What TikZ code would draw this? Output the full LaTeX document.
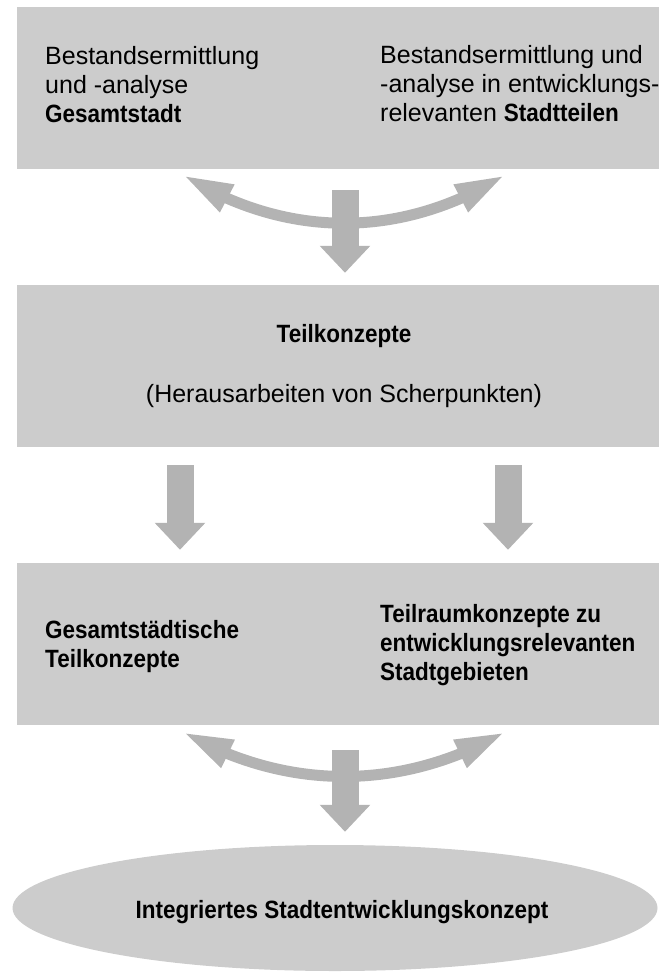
\documentclass[tikz,border=0pt]{standalone}
\usepackage{fontspec}
\setmainfont{Liberation Sans}[BoldFeatures={FakeStretch=0.9}]
\usepackage{tikz}
\usetikzlibrary{positioning, arrows.meta, calc, shapes.geometric, bending}
\definecolor{boxgray}{HTML}{CCCCCC}
\definecolor{arrowgray}{HTML}{B3B3B3}

\tikzset{
  stage/.style={fill=boxgray, minimum width=642pt, minimum height=162pt, inner sep=0pt},
  txt/.style={align=left, inner sep=0pt, font=\fontsize{25}{29}\selectfont},
  downarrow/.style={arrowgray, line width=27pt, -{Triangle[length=27pt,width=49pt]}},
  swing/.style={arrowgray, line width=11pt,
    {Triangle[length=50pt,width=28pt]}-{Triangle[length=50pt,width=28pt]}},
}

\begin{document}
\begin{tikzpicture}[x=1pt,y=1pt]
    \useasboundingbox (0,0) rectangle (659,-976);

    % boxes
    \node[stage] (box1) at (338,-88) {};
    \node[stage] (box2) at (338,-366) {};
    \node[stage] (box3) at (338,-644) {};
    \node[ellipse, fill=boxgray, minimum width=645pt, minimum height=126pt,
          inner sep=0pt] (konzept) at (335,-908) {};

    % texts
    \node[txt, anchor=north west] (gesamt) at (45,-46)
      {Bestandsermittlung\\und -analyse\\\textbf{Gesamtstadt}};
    \node[txt, anchor=north west] (teile) at (380,-45)
      {Bestandsermittlung und\\-analyse in entwicklungs-\\relevanten \textbf{Stadtteilen}};
    \node[txt, anchor=base] (teilk) at (344,-342) {\textbf{Teilkonzepte}};
    \node[txt, anchor=base] (schwer) at (344,-402) {(Herausarbeiten von Scherpunkten)};
    \node[txt, anchor=north west] (gesteil) at (45,-620)
      {\textbf{Gesamtstädtische}\\\textbf{Teilkonzepte}};
    \node[txt, anchor=north west] (raum) at (380,-604)
      {\textbf{Teilraumkonzepte zu}\\\textbf{entwicklungsrelevanten}\\\textbf{Stadtgebieten}};
    \node[txt, anchor=base] (isek) at (342,-918) {\textbf{Integriertes Stadtentwicklungskonzept}};

    % connectors
    \coordinate (s1l) at ($(box1.south)+(-155,-6)$);
    \coordinate (s1r) at ($(box1.south)+(167,-6)$);
    \coordinate (s3l) at ($(box3.south)+(-155,-7)$);
    \coordinate (s3r) at ($(box3.south)+(167,-7)$);
    \draw[swing] (s1l) .. controls +(104,-64) and +(-104,-64) .. (s1r);
    \draw[swing] (s3l) .. controls +(104,-59) and +(-104,-59) .. (s3r);

    \draw[downarrow] ($(box1.south)+(7,-21)$) -- ($(box2.north)+(7,12)$);
    \draw[downarrow] ($(box2.south)+(-158,-18)$) -- ($(box3.north)+(-158,13)$);
    \draw[downarrow] ($(box2.south)+(170,-18)$) -- ($(box3.north)+(170,13)$);
    \draw[downarrow] ($(box3.south)+(7,-25)$) -- ($(konzept.north)+(10,13)$);
\end{tikzpicture}
\end{document}
